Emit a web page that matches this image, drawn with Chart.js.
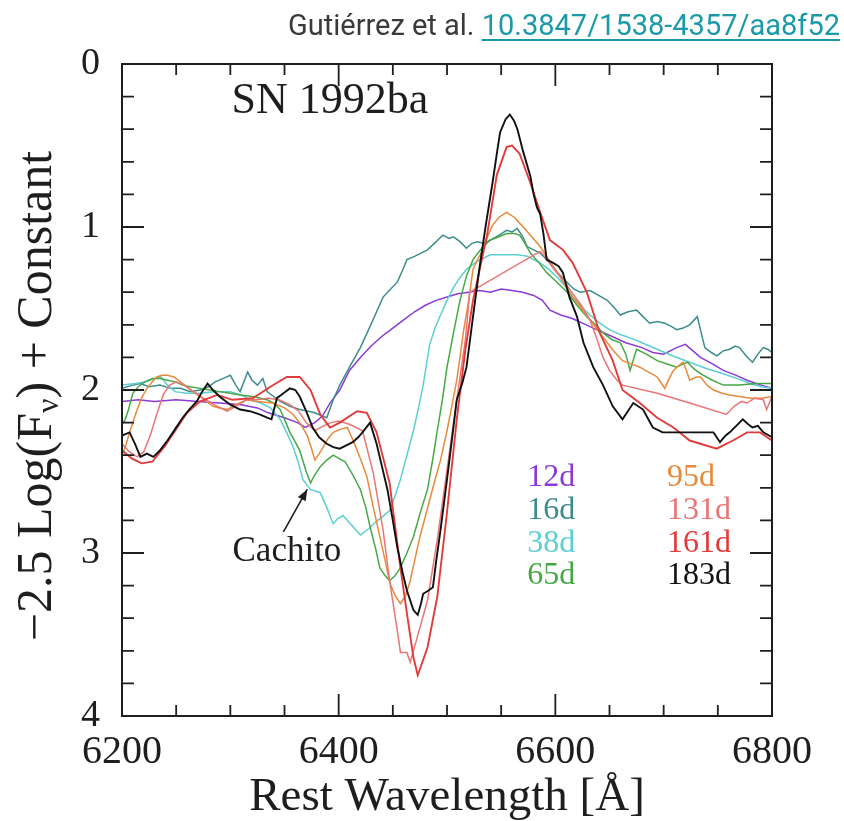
<!DOCTYPE html>
<html>
<head>
<meta charset="utf-8">
<script src="https://cdn.jsdelivr.net/npm/chart.js@4.4.1/dist/chart.umd.min.js"></script>
<style>
  html, body { margin: 0; padding: 0; background: #ffffff; }
  #wrap { width: 844px; height: 821px; position: relative; }
</style>
</head>
<body>
<div id="wrap"><canvas id="c" width="844" height="821"></canvas></div>
<script>
// ---------- data (wavelength [Å], -2.5 log F + const) ----------
const labels = ['12d', '16d', '38d', '65d', '95d', '131d', '161d', '183d'];
const xTicks = [6200, 6400, 6600, 6800];
const yTicks = [0, 1, 2, 3, 4];

const spec12d = [[6200,2.07],[6215,2.06],[6230,2.07],[6250,2.06],[6270,2.07],[6290,2.08],[6310,2.09],[6325,2.11],[6335,2.14],[6350,2.17],[6362,2.20],[6369,2.23],[6378,2.20],[6385,2.16],[6392,2.08],[6401,2.00],[6410,1.88],[6420,1.80],[6430,1.73],[6440,1.67],[6450,1.62],[6460,1.57],[6470,1.52],[6480,1.48],[6490,1.45],[6500,1.43],[6510,1.41],[6520,1.40],[6530,1.39],[6540,1.40],[6550,1.38],[6560,1.39],[6570,1.40],[6580,1.42],[6588,1.45],[6595,1.51],[6605,1.54],[6615,1.56],[6625,1.59],[6638,1.63],[6652,1.67],[6665,1.71],[6680,1.74],[6690,1.77],[6700,1.78],[6712,1.74],[6720,1.72],[6727,1.76],[6734,1.80],[6745,1.84],[6755,1.88],[6767,1.91],[6777,1.94],[6790,1.97],[6800,1.99]];

const spec16d = [[6200,1.99],[6210,1.97],[6217,1.96],[6225,1.98],[6235,1.97],[6245,1.99],[6254,1.99],[6263,2.01],[6272,2.00],[6280,1.98],[6286,1.95],[6293,1.93],[6300,1.91],[6305,1.97],[6309,2.01],[6316,1.89],[6320,1.94],[6325,1.97],[6330,1.93],[6334,2.01],[6340,2.04],[6346,2.07],[6355,2.10],[6364,2.12],[6372,2.13],[6378,2.14],[6385,2.16],[6389,2.17],[6395,2.06],[6401,1.97],[6410,1.86],[6420,1.74],[6429,1.61],[6435,1.52],[6441,1.43],[6448,1.38],[6454,1.34],[6460,1.25],[6463,1.20],[6470,1.18],[6476,1.16],[6482,1.14],[6490,1.09],[6496,1.05],[6502,1.07],[6506,1.06],[6512,1.09],[6518,1.13],[6523,1.10],[6528,1.09],[6534,1.10],[6540,1.08],[6548,1.05],[6555,1.02],[6560,1.03],[6565,1.01],[6570,1.06],[6574,1.12],[6580,1.14],[6586,1.16],[6592,1.20],[6598,1.25],[6605,1.30],[6611,1.34],[6617,1.38],[6623,1.40],[6632,1.39],[6640,1.42],[6648,1.45],[6655,1.50],[6660,1.54],[6667,1.52],[6675,1.51],[6681,1.55],[6687,1.59],[6694,1.58],[6701,1.59],[6707,1.61],[6712,1.63],[6718,1.62],[6724,1.60],[6731,1.55],[6738,1.74],[6744,1.77],[6749,1.79],[6755,1.76],[6761,1.75],[6766,1.73],[6770,1.74],[6776,1.79],[6782,1.83],[6787,1.78],[6792,1.74],[6796,1.75],[6800,1.77]];

const spec38d = [[6200,1.97],[6212,1.96],[6222,1.95],[6230,1.93],[6236,1.92],[6242,1.97],[6249,2.01],[6260,2.02],[6272,2.02],[6285,2.01],[6300,2.01],[6310,2.03],[6318,2.06],[6328,2.08],[6337,2.11],[6346,2.18],[6352,2.26],[6358,2.35],[6363,2.45],[6367,2.55],[6374,2.61],[6383,2.63],[6389,2.72],[6395,2.82],[6399,2.79],[6404,2.77],[6412,2.83],[6420,2.89],[6428,2.85],[6434,2.81],[6440,2.78],[6447,2.74],[6452,2.65],[6457,2.55],[6463,2.40],[6469,2.25],[6474,2.10],[6478,1.97],[6484,1.72],[6489,1.62],[6494,1.54],[6500,1.45],[6506,1.37],[6512,1.31],[6518,1.26],[6528,1.21],[6540,1.17],[6555,1.17],[6565,1.17],[6574,1.18],[6586,1.22],[6594,1.26],[6602,1.31],[6610,1.37],[6616,1.43],[6624,1.49],[6632,1.54],[6641,1.59],[6650,1.63],[6660,1.66],[6669,1.68],[6680,1.71],[6694,1.75],[6708,1.79],[6724,1.83],[6740,1.87],[6755,1.90],[6768,1.93],[6780,1.96],[6790,1.98],[6800,1.99]];

const spec65d = [[6200,2.21],[6203,2.18],[6206,2.12],[6210,2.02],[6215,1.98],[6221,1.95],[6228,1.93],[6235,1.93],[6242,1.94],[6249,1.95],[6256,1.97],[6263,1.98],[6272,1.99],[6281,2.00],[6290,2.01],[6300,2.02],[6309,2.03],[6320,2.04],[6334,2.06],[6340,2.08],[6346,2.12],[6350,2.18],[6355,2.26],[6360,2.32],[6364,2.37],[6370,2.50],[6374,2.57],[6378,2.52],[6383,2.47],[6389,2.43],[6395,2.40],[6400,2.42],[6406,2.44],[6413,2.52],[6420,2.61],[6425,2.72],[6429,2.84],[6434,2.97],[6438,3.09],[6443,3.14],[6447,3.17],[6452,3.14],[6457,3.09],[6463,3.00],[6469,2.90],[6475,2.76],[6482,2.61],[6487,2.42],[6491,2.25],[6496,2.05],[6500,1.86],[6506,1.65],[6512,1.45],[6518,1.30],[6524,1.20],[6532,1.13],[6540,1.08],[6548,1.06],[6555,1.04],[6562,1.04],[6567,1.05],[6572,1.10],[6577,1.16],[6585,1.22],[6592,1.28],[6600,1.33],[6611,1.40],[6620,1.48],[6629,1.55],[6637,1.60],[6644,1.65],[6652,1.69],[6660,1.71],[6665,1.78],[6669,1.88],[6675,1.75],[6684,1.78],[6694,1.82],[6703,1.84],[6712,1.86],[6718,1.84],[6722,1.83],[6728,1.87],[6734,1.90],[6745,1.94],[6755,1.97],[6770,1.97],[6786,1.96],[6800,1.96]];

const spec95d = [[6200,2.40],[6204,2.33],[6207,2.26],[6211,2.18],[6214,2.12],[6218,2.05],[6223,1.99],[6228,1.95],[6232,1.92],[6237,1.91],[6242,1.91],[6248,1.92],[6254,1.95],[6263,2.00],[6272,2.04],[6278,2.07],[6284,2.10],[6290,2.11],[6297,2.12],[6305,2.09],[6315,2.06],[6325,2.07],[6339,2.08],[6350,2.11],[6358,2.15],[6365,2.21],[6371,2.28],[6375,2.36],[6378,2.43],[6384,2.37],[6390,2.30],[6395,2.26],[6402,2.24],[6408,2.23],[6414,2.32],[6420,2.42],[6426,2.53],[6432,2.72],[6438,2.90],[6443,3.05],[6447,3.18],[6452,3.26],[6457,3.31],[6462,3.26],[6466,3.17],[6470,3.05],[6475,2.90],[6481,2.75],[6487,2.60],[6494,2.43],[6500,2.25],[6505,2.08],[6509,1.94],[6512,1.80],[6515,1.65],[6520,1.45],[6524,1.26],[6529,1.19],[6533,1.14],[6538,1.05],[6542,0.99],[6548,0.94],[6555,0.91],[6562,0.94],[6569,0.99],[6577,1.05],[6586,1.12],[6594,1.20],[6602,1.28],[6609,1.36],[6616,1.43],[6624,1.50],[6632,1.57],[6640,1.64],[6648,1.71],[6655,1.77],[6662,1.82],[6670,1.84],[6678,1.86],[6686,1.89],[6694,1.92],[6698,1.96],[6701,1.99],[6705,1.93],[6709,1.88],[6714,1.85],[6718,1.83],[6721,1.88],[6724,1.94],[6730,1.92],[6734,1.92],[6740,1.97],[6746,2.00],[6754,2.02],[6761,2.03],[6770,2.04],[6780,2.05],[6790,2.05],[6800,2.04]];

const spec131d = [[6200,2.33],[6207,2.38],[6214,2.41],[6220,2.38],[6226,2.28],[6232,2.15],[6238,2.03],[6244,1.97],[6250,1.95],[6258,1.97],[6266,2.01],[6275,2.05],[6285,2.09],[6297,2.13],[6305,2.10],[6315,2.06],[6325,2.06],[6335,2.05],[6345,2.06],[6355,2.09],[6363,2.13],[6370,2.20],[6378,2.25],[6386,2.22],[6393,2.20],[6400,2.19],[6410,2.21],[6422,2.25],[6432,2.51],[6441,2.86],[6447,3.17],[6454,3.47],[6457,3.61],[6463,3.61],[6466,3.67],[6472,3.53],[6482,3.29],[6491,2.92],[6500,2.49],[6509,2.06],[6517,1.69],[6521,1.40],[6586,1.15],[6593,1.20],[6600,1.27],[6608,1.33],[6615,1.40],[6624,1.48],[6632,1.57],[6638,1.68],[6644,1.80],[6650,1.88],[6657,1.94],[6662,1.97],[6694,2.02],[6724,2.08],[6758,2.15],[6765,2.10],[6772,2.07],[6777,2.08],[6784,2.05],[6792,2.06],[6795,2.12],[6800,2.04]];

const spec161d = [[6200,2.37],[6209,2.42],[6218,2.45],[6228,2.44],[6240,2.34],[6251,2.23],[6260,2.14],[6272,2.07],[6288,2.03],[6302,2.06],[6321,2.05],[6337,1.98],[6352,1.92],[6364,1.92],[6374,2.00],[6383,2.15],[6392,2.23],[6401,2.20],[6417,2.13],[6426,2.14],[6435,2.26],[6447,2.57],[6457,3.09],[6463,3.37],[6469,3.64],[6473,3.75],[6482,3.58],[6491,3.27],[6500,2.75],[6509,2.18],[6517,1.75],[6524,1.45],[6537,1.05],[6546,0.68],[6555,0.51],[6560,0.50],[6567,0.55],[6577,0.73],[6586,0.91],[6595,1.08],[6607,1.14],[6616,1.22],[6629,1.40],[6641,1.65],[6653,1.82],[6662,2.00],[6678,2.08],[6694,2.17],[6709,2.23],[6724,2.31],[6749,2.36],[6764,2.31],[6777,2.26],[6789,2.26],[6800,2.31]];

const spec183d = [[6200,2.28],[6207,2.26],[6212,2.33],[6217,2.41],[6223,2.39],[6229,2.41],[6235,2.37],[6242,2.31],[6249,2.24],[6256,2.17],[6262,2.12],[6269,2.07],[6274,2.01],[6279,1.96],[6284,2.00],[6290,2.04],[6300,2.09],[6309,2.12],[6318,2.13],[6327,2.15],[6334,2.17],[6338,2.18],[6343,2.05],[6349,2.02],[6355,1.99],[6360,2.00],[6364,2.04],[6370,2.13],[6376,2.23],[6382,2.29],[6389,2.33],[6395,2.35],[6401,2.36],[6407,2.34],[6413,2.32],[6418,2.29],[6422,2.26],[6429,2.20],[6435,2.33],[6440,2.47],[6445,2.61],[6450,2.80],[6454,2.96],[6459,3.12],[6463,3.23],[6469,3.35],[6473,3.38],[6476,3.31],[6478,3.25],[6483,3.23],[6487,3.21],[6490,3.05],[6494,2.86],[6500,2.55],[6505,2.28],[6509,2.06],[6514,1.96],[6518,1.86],[6524,1.55],[6530,1.25],[6536,0.98],[6542,0.73],[6546,0.55],[6549,0.42],[6554,0.34],[6558,0.31],[6562,0.35],[6565,0.40],[6570,0.53],[6577,0.69],[6580,0.80],[6583,0.88],[6586,0.92],[6589,1.04],[6592,1.20],[6598,1.22],[6603,1.24],[6607,1.28],[6613,1.43],[6620,1.55],[6626,1.71],[6635,1.86],[6644,1.97],[6653,2.10],[6662,2.18],[6668,2.12],[6672,2.08],[6681,2.12],[6690,2.23],[6699,2.26],[6712,2.26],[6724,2.26],[6737,2.26],[6746,2.26],[6752,2.32],[6757,2.28],[6761,2.26],[6767,2.22],[6773,2.18],[6778,2.21],[6782,2.23],[6787,2.22],[6792,2.26],[6800,2.29]];

const seriesData = [spec12d, spec16d, spec38d, spec65d, spec95d, spec131d, spec161d, spec183d];
const seriesColors = ['#8b3ad8', '#3d8c8c', '#5ccfd2', '#45a845', '#e68a3c', '#e87676', '#e23b3b', '#111111'];
const seriesWidths = [1.5, 1.5, 1.5, 1.5, 1.5, 1.5, 1.9, 1.9];

// annotation anchors in data units
const titleText = 'SN 1992ba';
const titlePos = [6301, 0.23];
const cachitoText = 'Cachito';
const cachitoPos = [6302, 2.99];
const arrowTail = [6349, 2.87];
const arrowTip = [6371, 2.61];
const legendCols = [6574, 6703];
const legendRows = [2.54, 2.74, 2.94, 3.14];

const INK = '#1e1e1e';
const SERIF = '"Liberation Serif", "DejaVu Serif", serif';

function drawText(ctx, s, x, y, size, color, align, baseline) {
  ctx.font = size + 'px ' + SERIF;
  ctx.fillStyle = color;
  ctx.textAlign = align || 'left';
  ctx.textBaseline = baseline || 'middle';
  ctx.fillText(s, x, y);
}

const decorPlugin = {
  id: 'decor',
  afterDraw(chart) {
    const { ctx, chartArea: a, scales } = chart;
    const sx = scales.x, sy = scales.y;
    ctx.save();
    // frame
    ctx.strokeStyle = INK;
    ctx.lineWidth = 2;
    ctx.strokeRect(a.left, a.top, a.right - a.left, a.bottom - a.top);
    // inward ticks, x: minor every 50, major every 200
    ctx.lineWidth = 1.8;
    ctx.beginPath();
    for (let i = 0; i <= 12; i++) {
      const w = 6200 + i * 50;
      const px = sx.getPixelForValue(w);
      const len = (i % 4 === 0) ? 22 : 11;
      ctx.moveTo(px, a.bottom); ctx.lineTo(px, a.bottom - len);
      ctx.moveTo(px, a.top); ctx.lineTo(px, a.top + len);
    }
    // y: minor every 0.2, major every 1
    for (let i = 0; i <= 20; i++) {
      const v = i * 0.2;
      const py = sy.getPixelForValue(v);
      const len = (i % 5 === 0) ? 22 : 12;
      ctx.moveTo(a.left, py); ctx.lineTo(a.left + len, py);
      ctx.moveTo(a.right, py); ctx.lineTo(a.right - len, py);
    }
    ctx.stroke();

    // y-axis title with subscript nu
    ctx.save();
    ctx.translate(38, 396);
    ctx.rotate(-Math.PI / 2);
    const p1 = '\u22122.5 Log(F', sub = '\u03bd', p2 = ') + Constant';
    const fMain = '50px ' + SERIF, fSub = '32px ' + SERIF;
    ctx.font = fMain; const w1 = ctx.measureText(p1).width, w3 = ctx.measureText(p2).width;
    ctx.font = fSub; const w2 = ctx.measureText(sub).width;
    const total = w1 + w2 + w3;
    let cx = -total / 2;
    ctx.fillStyle = INK; ctx.textBaseline = 'middle'; ctx.textAlign = 'left';
    ctx.font = fMain; ctx.fillText(p1, cx, 0); cx += w1;
    ctx.font = fSub; ctx.fillText(sub, cx, 12); cx += w2;
    ctx.font = fMain; ctx.fillText(p2, cx, 0);
    ctx.restore();

    // panel title
    drawText(ctx, titleText, sx.getPixelForValue(titlePos[0]), sy.getPixelForValue(titlePos[1]), 44, INK, 'left', 'middle');

    // legend labels
    labels.forEach((lab, i) => {
      const col = Math.floor(i / 4), row = i % 4;
      drawText(ctx, lab, sx.getPixelForValue(legendCols[col]), sy.getPixelForValue(legendRows[row]), 32, seriesColors[i], 'left', 'middle');
    });

    // Cachito label + arrow
    drawText(ctx, cachitoText, sx.getPixelForValue(cachitoPos[0]), sy.getPixelForValue(cachitoPos[1]), 35, INK, 'left', 'middle');
    const tx = sx.getPixelForValue(arrowTail[0]), ty = sy.getPixelForValue(arrowTail[1]);
    const hx = sx.getPixelForValue(arrowTip[0]), hy = sy.getPixelForValue(arrowTip[1]);
    ctx.strokeStyle = INK; ctx.lineWidth = 1.6;
    ctx.beginPath(); ctx.moveTo(tx, ty); ctx.lineTo(hx, hy); ctx.stroke();
    const ang = Math.atan2(hy - ty, hx - tx), hl = 12, hw = 0.38;
    ctx.fillStyle = INK;
    ctx.beginPath();
    ctx.moveTo(hx, hy);
    ctx.lineTo(hx - hl * Math.cos(ang - hw), hy - hl * Math.sin(ang - hw));
    ctx.lineTo(hx - hl * Math.cos(ang + hw), hy - hl * Math.sin(ang + hw));
    ctx.closePath(); ctx.fill();

    // attribution at the top right
    const link = '10.3847/1538-4357/aa8f52', pre = 'Guti\u00e9rrez et al. ';
    ctx.font = '29px Roboto, "Noto Sans", sans-serif';
    ctx.textBaseline = 'alphabetic'; ctx.textAlign = 'left';
    const lw = ctx.measureText(link).width, pw = ctx.measureText(pre).width;
    const right = 840, base = 35;
    ctx.fillStyle = '#1a9aa8';
    ctx.fillText(link, right - lw, base);
    ctx.fillRect(right - lw, base + 4, lw, 2);
    ctx.fillStyle = '#3a3a3a';
    ctx.fillText(pre, right - lw - pw, base);
    ctx.restore();
  }
};

const datasets = seriesData.map((arr, i) => ({
  label: labels[i],
  data: arr.map(p => ({ x: p[0], y: p[1] })),
  borderColor: seriesColors[i],
  backgroundColor: seriesColors[i],
  borderWidth: seriesWidths[i],
  pointRadius: 0,
  tension: 0,
  fill: false,
  order: seriesData.length - i
}));

new Chart(document.getElementById('c'), {
  type: 'line',
  data: { datasets },
  options: {
    responsive: false,
    animation: false,
    devicePixelRatio: 1,
    layout: { padding: { left: 0, right: 72, top: 64, bottom: 0 } },
    plugins: { legend: { display: false }, tooltip: { enabled: false } },
    scales: {
      x: {
        type: 'linear', min: 6200, max: 6800,
        afterBuildTicks: s => { s.ticks = xTicks.map(v => ({ value: v })); },
        afterFit: s => { s.height = 105; },
        ticks: { callback: v => String(v), color: INK, padding: 12, maxRotation: 0,
                 font: { family: SERIF, size: 40 } },
        grid: { display: false, drawTicks: false },
        border: { display: true, color: INK, width: 2 },
        title: { display: true, text: 'Rest Wavelength [\u00c5]', color: INK,
                 font: { family: SERIF, size: 47, lineHeight: 1.0 }, padding: { top: 0, bottom: 0 } }
      },
      y: {
        type: 'linear', min: 0, max: 4, reverse: true,
        afterBuildTicks: s => { s.ticks = yTicks.map(v => ({ value: v })); },
        afterFit: s => { s.width = 122; },
        ticks: { callback: v => String(v), color: INK, padding: 22,
                 font: { family: SERIF, size: 38 } },
        grid: { display: false, drawTicks: false },
        border: { display: true, color: INK, width: 2 }
      }
    }
  },
  plugins: [decorPlugin]
});
</script>
</body>
</html>
